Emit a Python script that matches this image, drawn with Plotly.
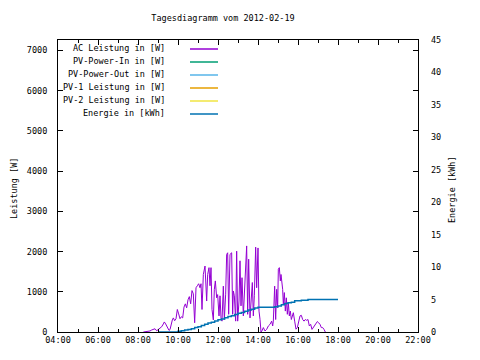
import plotly.graph_objects as go

DAY = "2012-02-19 "

# AC Leistung [W]  (time, watts)
ac_times = ["08:16","08:21","08:26","08:31","08:36","08:41","08:46","08:51","08:56","09:01",
            "09:06","09:11","09:16","09:19","09:23","09:28","09:33","09:36","09:39","09:43",
            "09:46","09:50","09:54","09:58","10:02","10:06","10:10","10:14","10:18","10:22",
            "10:26","10:30","10:34","10:38","10:42","10:46","10:50","10:54","10:58","11:02",
            "11:06","11:09","11:12","11:16","11:21","11:26","11:29","11:33","11:36","11:39",
            "11:42","11:46","11:49","11:52","11:56","11:59","12:03","12:06","12:09","12:12",
            "12:16","12:19","12:23","12:26","12:29","12:32","12:36","12:41","12:44","12:46",
            "12:49","12:53","12:56","12:59","13:03","13:06","13:09","13:12","13:16","13:19",
            "13:23","13:26","13:29","13:32","13:36","13:39","13:43","13:46","13:49","13:53",
            "13:56","14:00","14:03","14:06","14:09","14:12","14:16","14:21","14:26","14:31",
            "14:36","14:41","14:44","14:46","14:50","14:53","14:56","14:59","15:01","15:04",
            "15:07","15:09","15:12","15:14","15:16","15:19","15:22","15:25","15:28","15:31",
            "15:34","15:37","15:40","15:43","15:46","15:50","15:54","15:58","16:02","16:06",
            "16:10","16:14","16:18","16:22","16:26","16:30","16:34","16:38","16:42","16:46",
            "16:50","16:54","16:58","17:02","17:06","17:10","17:14","17:18","17:22"]
ac_watts = [0,5,10,30,25,50,60,80,30,70,
            100,130,200,250,200,120,40,60,180,300,
            350,280,330,560,450,330,380,350,620,700,
            600,800,880,700,1030,950,230,1100,1150,1200,
            1100,1200,560,1430,1640,770,1430,1600,1150,1600,
            560,300,1060,1270,850,930,400,900,350,270,
            1140,310,940,1930,1970,440,1930,1970,440,1020,
            900,270,2010,270,770,1770,650,1350,400,850,
            1640,2140,440,1810,350,850,1230,400,900,2110,
            1100,2090,520,315,0,30,110,25,65,150,
            190,270,150,270,1140,310,1060,600,1560,1600,
            1270,1430,1180,1060,690,980,520,850,440,730,
            400,520,310,440,480,270,70,110,270,400,
            415,310,270,310,290,310,150,190,65,110,
            150,190,260,230,190,110,110,65,0]

# Energie [kWh]
energy_times = ["09:00","09:10","09:20","09:30","09:40","09:50","10:00","10:10","10:20","10:30",
                "10:40","10:50","11:00","11:10","11:20","11:30","11:40","11:50","12:00","12:10",
                "12:20","12:30","12:40","12:50","13:00","13:10","13:20","13:30","13:40","13:50",
                "14:00","14:10","14:20","14:30","14:40","14:50","15:00","15:10","15:20","15:30",
                "15:40","15:50","16:00","16:10","16:20","16:30","16:40","16:50","17:00","17:10",
                "17:20","17:30","17:40","17:50","18:00"]
energy_kwh = [0.0,0.0,0.0,0.0,0.0,0.0,0.1,0.2,0.3,0.4,
              0.5,0.7,0.8,1.0,1.2,1.4,1.5,1.7,1.9,2.0,
              2.2,2.4,2.5,2.7,2.9,3.0,3.2,3.4,3.5,3.7,
              3.8,3.8,3.8,3.8,3.8,3.9,4.0,4.2,4.4,4.5,
              4.6,4.8,4.8,4.9,4.9,5.0,5.0,5.0,5.0,5.0,
              5.0,5.0,5.0,5.0,5.0]

legend_names = ["AC Leistung in [W]", "PV-Power-In in [W]", "PV-Power-Out in [W]",
                "PV-1 Leistung in [W]", "PV-2 Leistung in [W]", "Energie in [kWh]"]
legend_colors = ["#9400d3", "#009e73", "#56b4e9", "#e69f00", "#f0e442", "#0072b2"]

W, H = 480, 360
OFF = 8  # page body margin of the browser
# plot area in page pixels: left 58, right 418, top 40, bottom 332
L = 58 - OFF
T = 40 - OFF
R = (W + OFF) - 418
B = (H + OFF) - 332
PL, PR, PT, PB = 58, 418, 40, 332
PW, PH = PR - PL, PB - PT

def px(x):
    return (x - PL) / PW

def py(y):
    return (PB - y) / PH

FONT = "DejaVu Sans Mono"
fig = go.Figure()
fig.add_trace(go.Scatter(x=[DAY + t for t in ac_times], y=ac_watts, mode="lines",
                         line=dict(color=legend_colors[0], width=1), showlegend=False))
fig.add_trace(go.Scatter(x=[DAY + t for t in energy_times], y=energy_kwh, mode="lines",
                         line=dict(color=legend_colors[5], width=1.5, shape="hv"),
                         yaxis="y2", showlegend=False))

ann = []
shapes = []
for i, (name, col) in enumerate(zip(legend_names, legend_colors)):
    yy = 48 + 13 * i
    ann.append(dict(text=name, x=px(167), y=py(yy), xref="paper", yref="paper",
                    xanchor="right", yanchor="middle", showarrow=False,
                    font=dict(family=FONT, size=8.5, color="black")))
    shapes.append(dict(type="line", xref="paper", yref="paper", x0=px(190), x1=px(218),
                       y0=py(yy + 1), y1=py(yy + 1), line=dict(color=col, width=1.5)))

ann.append(dict(text="Leistung [W]", x=px(14), y=py(189), xref="paper", yref="paper",
                textangle=-90, showarrow=False, xanchor="center", yanchor="middle",
                font=dict(family=FONT, size=8.5, color="black")))
ann.append(dict(text="Energie [kWh]", x=px(452), y=py(190), xref="paper", yref="paper",
                textangle=-90, showarrow=False, xanchor="center", yanchor="middle",
                font=dict(family=FONT, size=8.5, color="black")))

fig.update_layout(
    width=W, height=H,
    margin=dict(l=L, r=R, t=T, b=B),
    paper_bgcolor="white", plot_bgcolor="white",
    font=dict(family=FONT, size=8.5, color="black"),
    title=dict(text="Tagesdiagramm vom 2012-02-19", x=(223 - OFF) / W, xanchor="center",
               y=1 - (18 - OFF) / H, yanchor="middle", font=dict(family=FONT, size=8.5)),
    xaxis=dict(range=[DAY + "04:00", DAY + "22:00"], type="date", tickformat="%H:%M",
               dtick=7200000, tick0=DAY + "04:00", ticks="inside", ticklen=5,
               showline=True, linecolor="black", linewidth=1, mirror="ticks",
               showgrid=False, zeroline=False, tickcolor="black",
               minor=dict(ticks="inside", dtick=3600000, ticklen=3, tickcolor="black")),
    yaxis=dict(range=[0, 7260], dtick=1000, ticks="inside", ticklen=5,
               showline=True, linecolor="black", linewidth=1, mirror="ticks",
               showgrid=False, zeroline=False, tickcolor="black", ticklabelstandoff=8),
    yaxis2=dict(range=[0, 45], dtick=5, overlaying="y", side="right", ticks="",
                showline=False, showgrid=False, zeroline=False, ticklabelstandoff=12),
    annotations=ann, shapes=shapes,
)

fig.write_html("out.html")
